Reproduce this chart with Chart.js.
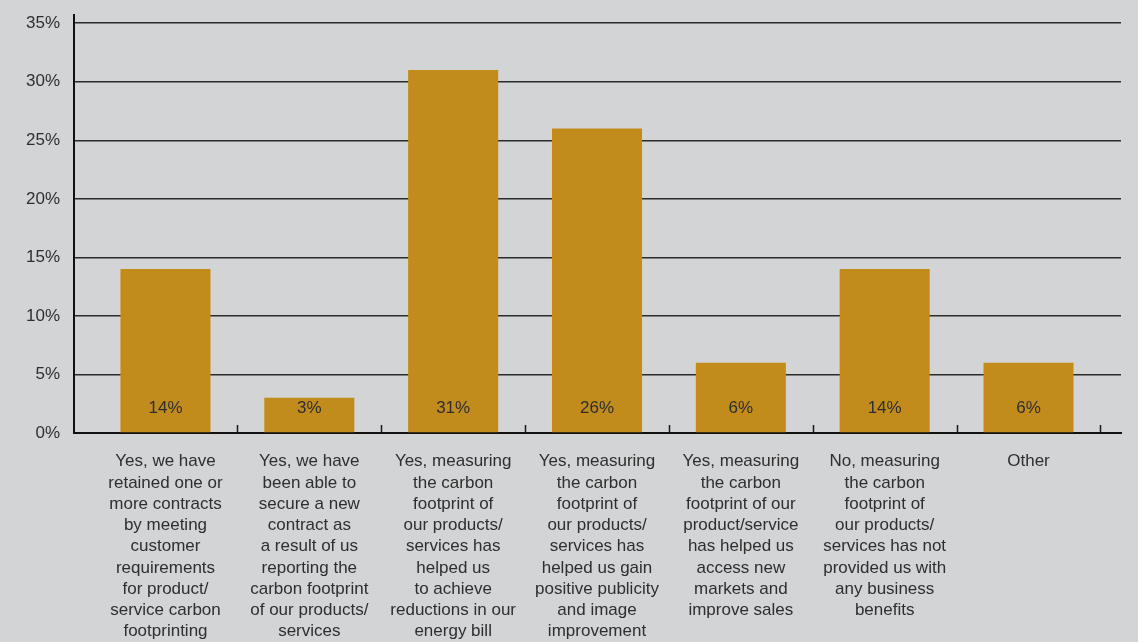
<!DOCTYPE html>
<html>
<head>
<meta charset="utf-8">
<script src="https://cdn.jsdelivr.net/npm/chart.js@4"></script>
<style>
  html, body { margin: 0; padding: 0; background: #d3d4d6; }
  #wrap { width: 1138px; height: 642px; position: relative; }
</style>
</head>
<body>
<div id="wrap"><canvas id="benefits-chart"></canvas></div>
<script>
// categories, one array of lines per bar
const categories = [
    ["Yes, we have", "retained one or", "more contracts", "by meeting", "customer", "requirements", "for product/", "service carbon", "footprinting"],
    ["Yes, we have", "been able to", "secure a new", "contract as", "a result of us", "reporting the", "carbon footprint", "of our products/", "services"],
    ["Yes, measuring", "the carbon", "footprint of", "our products/", "services has", "helped us", "to achieve", "reductions in our", "energy bill"],
    ["Yes, measuring", "the carbon", "footprint of", "our products/", "services has", "helped us gain", "positive publicity", "and image", "improvement"],
    ["Yes, measuring", "the carbon", "footprint of our", "product/service", "has helped us", "access new", "markets and", "improve sales"],
    ["No, measuring", "the carbon", "footprint of", "our products/", "services has not", "provided us with", "any business", "benefits"],
    ["Other"]
];
const percentages = [14, 3, 31, 26, 6, 14, 6];
const yTicks = [0, 5, 10, 15, 20, 25, 30, 35];

const barColor = '#c28c1c';
const textColor = '#2e2e2e';
const fontFamily = '"Liberation Sans", Arial, sans-serif';

// small upward tick marks between categories + value text inside the bars
const barExtras = {
    id: 'barExtras',
    afterDatasetsDraw(chart) {
        const ctx = chart.ctx;
        const x = chart.scales.x;
        const y = chart.scales.y;
        const base = y.getPixelForValue(0);
        ctx.save();
        ctx.strokeStyle = '#1a1a1a';
        ctx.lineWidth = 1.5;
        for (let i = 0; i < categories.length; i++) {
            const px = Math.round(x.getPixelForValue(i + 0.5)) + 0.5;
            ctx.beginPath();
            ctx.moveTo(px, base);
            ctx.lineTo(px, base - 8);
            ctx.stroke();
        }
        ctx.fillStyle = textColor;
        ctx.font = '17px ' + fontFamily;
        ctx.textAlign = 'center';
        ctx.textBaseline = 'middle';
        chart.getDatasetMeta(0).data.forEach(function(bar, i) {
            ctx.fillText(percentages[i] + '%', bar.x, base - 25);
        });
        ctx.restore();
    }
};

new Chart(document.getElementById('benefits-chart'), {
    type: 'bar',
    data: {
        datasets: [{
            data: percentages.map(function(v, i) { return {x: i, y: v}; }),
            backgroundColor: barColor,
            borderWidth: 0,
            barPercentage: 0.626,
            categoryPercentage: 1
        }]
    },
    options: {
        responsive: true,
        maintainAspectRatio: false,
        animation: false,
        layout: {padding: {left: 0, right: 17, top: 15, bottom: 0}},
        plugins: {
            legend: {display: false},
            tooltip: {enabled: false}
        },
        scales: {
            x: {
                type: 'linear',
                offset: false,
                min: -0.636,
                max: 6.643,
                afterBuildTicks: function(scale) {
                    scale.ticks = categories.map(function(c, i) { return {value: i}; });
                },
                afterFit: function(scale) { scale.height = 209; },
                grid: {display: false, drawTicks: false, offset: false},
                border: {display: true, color: '#111', width: 2},
                ticks: {
                    autoSkip: false,
                    maxRotation: 0,
                    padding: 18,
                    color: textColor,
                    font: {family: fontFamily, size: 17, lineHeight: 1.25},
                    callback: function(value) { return categories[value] || ''; }
                }
            },
            y: {
                min: 0,
                max: 35.7,
                afterBuildTicks: function(scale) {
                    scale.ticks = yTicks.map(function(v) { return {value: v}; });
                },
                afterFit: function(scale) {
                    scale.width = 74;
                    scale.paddingTop = 0;
                },
                grid: {color: '#2b2b2b', lineWidth: 1.5, drawTicks: false},
                border: {display: true, color: '#111', width: 2},
                ticks: {
                    padding: 14,
                    color: textColor,
                    font: {family: fontFamily, size: 17},
                    callback: function(value) { return value + '%'; }
                }
            }
        }
    },
    plugins: [barExtras]
});
</script>
</body>
</html>
